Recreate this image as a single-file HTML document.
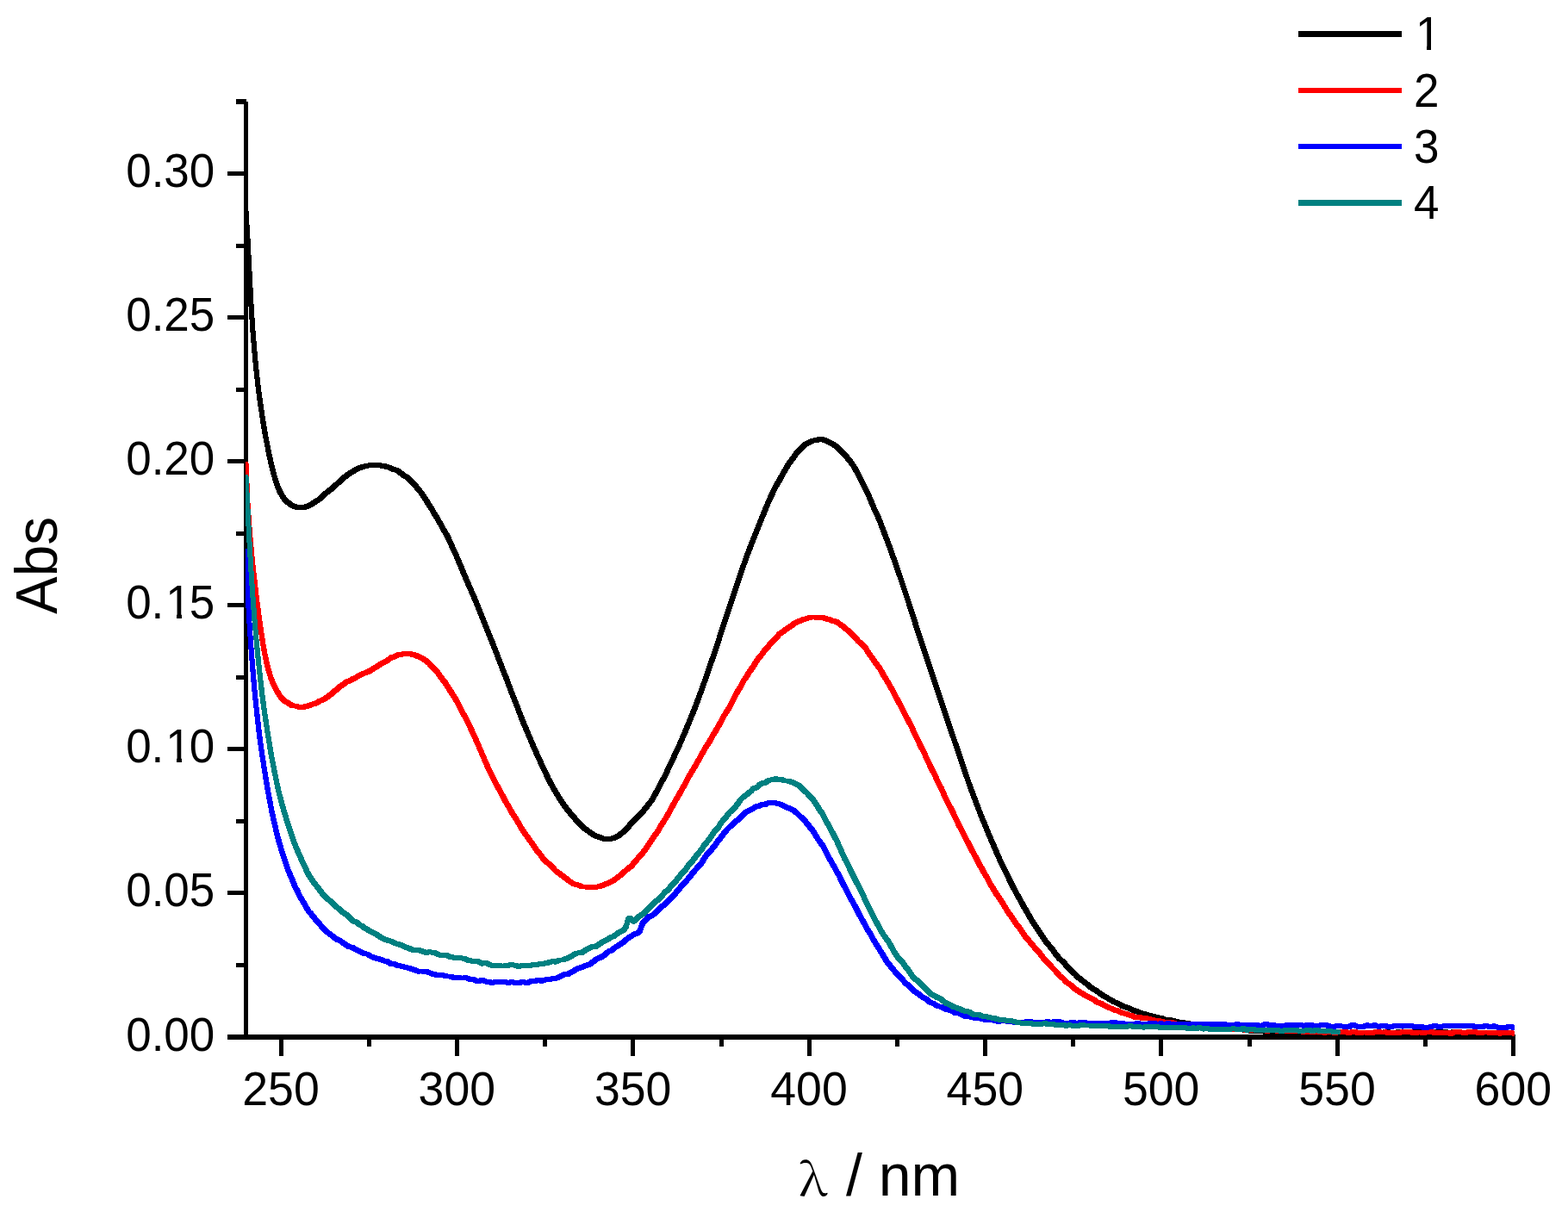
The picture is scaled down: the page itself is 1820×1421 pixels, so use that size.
<!DOCTYPE html>
<html lang="en">
<head>
<meta charset="utf-8">
<title>Abs vs wavelength</title>
<style>
html,body{margin:0;padding:0;background:#fff;}
body{width:1820px;height:1421px;overflow:hidden;}
svg{display:block;}
text{font-family:"Liberation Sans",Arial,sans-serif;fill:#000;}
.tk{font-size:53px;}
.ti{font-size:68px;}
.lam{font-family:"Noto Serif CJK SC","Liberation Serif",serif;font-size:52.2px;}
.c{fill:none;stroke-linejoin:round;stroke-linecap:butt;}
</style>
</head>
<body>
<svg width="1820" height="1421" viewBox="0 0 1820 1421">
<rect width="1820" height="1421" fill="#fff"/>
<g shape-rendering="crispEdges" fill="#000">
<rect x="283" y="118" width="5" height="1089"/>
<rect x="264" y="1201" width="1495" height="6"/>
<rect x="274" y="1118" width="10" height="5"/>
<rect x="264" y="1034" width="20" height="5"/>
<rect x="274" y="951" width="10" height="5"/>
<rect x="264" y="867" width="20" height="5"/>
<rect x="274" y="784" width="10" height="5"/>
<rect x="264" y="700" width="20" height="5"/>
<rect x="274" y="617" width="10" height="5"/>
<rect x="264" y="533" width="20" height="5"/>
<rect x="274" y="450" width="10" height="5"/>
<rect x="264" y="366" width="20" height="5"/>
<rect x="274" y="283" width="10" height="5"/>
<rect x="264" y="199" width="20" height="5"/>
<rect x="274" y="115" width="10" height="5"/>
<rect x="274" y="115" width="12" height="6"/>
<rect x="324" y="1206" width="5" height="20"/>
<rect x="426" y="1206" width="5" height="9"/>
<rect x="528" y="1206" width="5" height="20"/>
<rect x="630" y="1206" width="5" height="9"/>
<rect x="732" y="1206" width="5" height="20"/>
<rect x="835" y="1206" width="5" height="9"/>
<rect x="937" y="1206" width="5" height="20"/>
<rect x="1039" y="1206" width="5" height="9"/>
<rect x="1141" y="1206" width="5" height="20"/>
<rect x="1243" y="1206" width="5" height="9"/>
<rect x="1345" y="1206" width="5" height="20"/>
<rect x="1448" y="1206" width="5" height="9"/>
<rect x="1550" y="1206" width="5" height="20"/>
<rect x="1652" y="1206" width="5" height="9"/>
<rect x="1754" y="1206" width="5" height="20"/>
</g>
<g class="tk" text-anchor="end">
<text transform="translate(249.3,1219.8) scale(1,1.035)">0.00</text>
<text transform="translate(249.3,1051.8) scale(1,1.035)">0.05</text>
<text transform="translate(249.3,884.8) scale(1,1.035)">0.<tspan dx="2">1</tspan><tspan dx="-2">0</tspan></text>
<text transform="translate(249.3,717.8) scale(1,1.035)">0.<tspan dx="2">1</tspan><tspan dx="-2">5</tspan></text>
<text transform="translate(249.3,550.8) scale(1,1.035)">0.20</text>
<text transform="translate(249.3,383.8) scale(1,1.035)">0.25</text>
<text transform="translate(249.3,216.8) scale(1,1.035)">0.30</text>
</g>
<g class="tk" text-anchor="middle">
<text transform="translate(326.0,1283.0) scale(1.012,1.035)">250</text>
<text transform="translate(530.3,1283.0) scale(1.012,1.035)">300</text>
<text transform="translate(734.7,1283.0) scale(1.012,1.035)">350</text>
<text transform="translate(939.0,1283.0) scale(1.012,1.035)">400</text>
<text transform="translate(1143.3,1283.0) scale(1.012,1.035)">450</text>
<text transform="translate(1347.7,1283.0) scale(1.012,1.035)">500</text>
<text transform="translate(1552.0,1283.0) scale(1.012,1.035)">550</text>
<text transform="translate(1756.3,1283.0) scale(1.012,1.035)">600</text>
</g>
<text id="abs" class="ti" text-anchor="middle" transform="translate(66.0,656.5) rotate(-90) scale(0.965,1.02)">Abs</text>
<text id="xt" class="ti" y="1388"><tspan class="lam" x="927.3" y="1388.2" textLength="32.9" lengthAdjust="spacingAndGlyphs">λ</tspan><tspan x="963.1" y="1388"> / nm</tspan></text>
<clipPath id="cp"><rect x="285" y="100" width="1473" height="1120"/></clipPath>
<g clip-path="url(#cp)" shape-rendering="crispEdges" stroke-width="3.2" stroke-linejoin="round">
<path fill="#000000" stroke="#000000" d="M284.1,244.9 286.9,244.9 288.9,277.3 292.9,353.2 295.1,386.8 297.1,410.8 299.1,431.1 301.1,448.6 303.1,463.9 307.1,490.7 309.4,504.0 311.6,516.0 315.4,533.9 317.6,543.4 319.6,550.9 321.6,557.4 323.6,563.3 325.6,568.3 327.6,572.1 331.9,578.6 333.9,580.6 337.9,583.8 339.9,585.2 346.1,587.8 347.4,588.1 351.6,587.6 353.6,587.1 359.6,584.6 363.9,581.7 367.9,579.3 369.9,577.7 378.1,570.3 380.4,568.7 388.1,562.1 396.4,554.4 402.6,549.4 404.6,548.1 410.9,544.4 416.9,541.6 422.9,539.8 424.9,539.4 431.1,538.7 434.1,538.7 437.6,539.1 442.1,538.9 446.1,539.8 448.4,540.1 454.4,541.8 458.4,543.7 460.6,544.3 462.6,545.1 464.6,546.3 468.9,549.9 470.9,551.1 472.9,552.0 474.6,553.4 478.9,558.1 483.1,562.0 489.1,569.4 491.4,572.5 501.4,587.8 505.6,595.4 509.6,601.6 515.6,612.5 519.9,619.6 521.9,623.5 525.9,632.8 529.9,641.1 542.4,670.9 552.6,694.4 566.6,729.5 572.9,744.6 585.1,776.4 589.4,787.0 595.4,803.3 599.6,813.7 607.9,835.3 621.9,868.3 632.1,890.8 638.4,903.9 644.4,914.9 652.6,928.4 654.9,931.8 660.9,939.8 670.9,951.5 675.1,955.6 679.1,959.9 689.4,967.3 695.4,970.2 697.6,970.8 701.6,972.3 705.6,972.6 707.1,972.5 711.1,971.6 713.4,970.8 717.1,968.7 725.4,961.6 729.6,956.6 739.6,946.2 743.9,942.1 754.1,929.1 756.1,926.0 760.1,918.9 764.4,910.5 768.4,903.3 772.4,895.3 786.9,864.5 795.1,845.3 805.1,820.8 813.4,798.7 829.6,751.8 839.9,719.8 852.1,682.9 864.4,647.2 872.6,625.6 882.9,600.0 891.1,580.2 897.1,567.3 899.1,563.2 903.1,556.7 907.4,548.5 913.6,538.1 923.6,524.3 927.9,520.0 929.9,517.6 931.9,515.6 933.9,514.3 942.1,510.2 946.4,510.0 950.4,508.5 955.1,508.6 959.1,509.8 961.1,510.7 967.4,513.9 971.4,516.5 979.6,524.2 985.9,531.3 991.6,539.0 993.9,542.6 1008.1,570.3 1016.4,590.1 1020.4,598.5 1022.4,603.2 1034.6,635.4 1045.1,665.5 1055.1,695.4 1063.4,721.2 1081.9,777.4 1085.9,788.9 1098.1,826.1 1126.6,909.8 1139.1,943.0 1149.1,967.4 1163.4,1000.3 1177.9,1029.6 1189.9,1051.5 1193.9,1058.1 1198.4,1066.3 1212.6,1088.0 1214.6,1090.9 1222.9,1101.0 1228.9,1109.1 1230.9,1111.3 1236.9,1117.0 1241.1,1122.3 1249.4,1129.7 1253.4,1133.9 1261.6,1140.1 1265.6,1143.5 1269.6,1146.4 1273.9,1148.8 1277.9,1151.8 1284.1,1155.9 1290.1,1159.2 1294.4,1161.8 1298.4,1163.4 1304.4,1166.7 1312.6,1169.4 1316.9,1171.5 1320.9,1172.8 1324.9,1174.5 1328.9,1175.7 1343.4,1179.6 1349.4,1180.7 1353.6,1182.4 1355.6,1182.8 1359.6,1182.9 1361.6,1183.2 1367.9,1185.0 1373.9,1185.9 1378.1,1186.3 1386.1,1188.3 1390.4,1188.4 1394.4,1189.0 1396.4,1189.2 1402.6,1190.8 1406.6,1191.0 1416.4,1192.3 1420.9,1192.4 1427.1,1193.4 1428.9,1193.5 1433.1,1193.4 1437.1,1193.9 1443.4,1194.1 1449.6,1194.9 1453.6,1195.8 1456.6,1195.9 1459.1,1195.7 1463.6,1195.7 1471.4,1196.6 1473.4,1196.4 1476.1,1196.4 1479.4,1197.0 1483.6,1196.8 1490.1,1196.9 1491.9,1196.7 1496.4,1196.7 1498.6,1197.5 1499.9,1197.8 1508.6,1197.7 1510.6,1198.0 1512.1,1197.8 1520.9,1197.8 1523.1,1198.4 1524.4,1198.2 1533.1,1198.2 1539.4,1198.3 1541.1,1198.5 1544.9,1197.7 1549.6,1197.7 1551.4,1197.9 1559.9,1197.7 1562.6,1197.9 1567.9,1197.8 1569.6,1198.0 1571.6,1197.7 1576.1,1197.7 1579.4,1197.9 1594.6,1197.5 1598.6,1197.9 1604.1,1197.6 1606.1,1197.0 1608.1,1196.7 1610.9,1196.7 1612.9,1197.0 1616.6,1197.8 1618.4,1197.6 1622.6,1196.5 1627.1,1196.6 1629.1,1197.2 1637.4,1197.1 1639.4,1197.3 1640.9,1197.0 1642.9,1196.8 1655.4,1197.0 1657.4,1196.8 1666.1,1196.6 1670.1,1196.9 1675.1,1197.1 1680.4,1196.9 1682.4,1197.4 1685.9,1196.9 1688.6,1196.9 1692.6,1197.0 1696.4,1197.5 1702.9,1197.4 1706.9,1197.7 1711.1,1197.5 1714.4,1198.0 1719.9,1198.1 1722.6,1197.8 1725.4,1197.8 1731.4,1198.0 1733.4,1198.3 1739.6,1198.3 1743.1,1198.8 1745.9,1198.8 1749.9,1199.4 1754.4,1199.8 1759.4,1199.7 1759.4,1202.3 1753.1,1202.5 1747.1,1202.0 1743.9,1201.5 1740.9,1201.5 1736.9,1200.9 1730.9,1200.9 1727.4,1200.6 1724.1,1200.5 1721.4,1200.8 1716.9,1200.6 1712.4,1200.8 1709.4,1200.3 1704.4,1200.3 1700.6,1200.0 1694.1,1200.2 1689.9,1199.6 1687.9,1199.6 1684.4,1200.2 1681.6,1200.2 1679.6,1200.0 1678.1,1199.6 1673.6,1199.8 1671.4,1199.6 1667.4,1199.5 1665.1,1199.3 1660.1,1199.4 1657.9,1199.7 1644.1,1199.5 1641.6,1200.1 1638.6,1200.1 1634.9,1199.7 1626.6,1199.8 1624.6,1199.3 1621.1,1200.2 1617.1,1200.5 1614.4,1200.5 1609.6,1199.5 1606.9,1200.2 1602.9,1200.3 1600.6,1200.7 1596.1,1200.6 1593.6,1200.2 1580.4,1200.6 1574.1,1200.3 1572.1,1200.6 1566.1,1200.5 1563.9,1200.7 1561.1,1200.7 1557.9,1200.4 1548.9,1200.6 1547.4,1200.4 1543.4,1201.2 1530.9,1200.8 1522.4,1201.1 1520.4,1201.0 1518.4,1200.5 1510.1,1200.7 1504.6,1200.4 1497.9,1200.6 1495.9,1200.1 1493.9,1199.4 1492.4,1199.6 1485.9,1199.5 1477.4,1199.8 1474.1,1199.2 1469.1,1199.3 1461.1,1198.4 1457.6,1198.6 1450.9,1198.4 1446.9,1197.5 1440.6,1196.7 1434.6,1196.6 1431.6,1196.1 1424.4,1196.0 1418.1,1195.0 1414.1,1195.0 1403.9,1193.6 1399.9,1193.4 1393.6,1191.8 1391.6,1191.6 1388.1,1191.1 1383.4,1190.9 1375.4,1188.9 1371.1,1188.5 1365.1,1187.6 1358.9,1185.8 1357.1,1185.5 1352.9,1185.4 1350.9,1185.0 1346.6,1183.3 1340.6,1182.2 1326.1,1178.3 1322.1,1177.1 1318.1,1175.4 1314.1,1174.1 1309.9,1172.0 1301.6,1169.3 1295.6,1166.0 1291.6,1164.4 1287.4,1161.8 1281.4,1158.5 1275.1,1154.4 1271.1,1151.4 1266.9,1149.0 1262.9,1146.1 1258.9,1142.7 1250.6,1136.5 1246.6,1132.3 1238.4,1124.9 1234.1,1119.6 1228.1,1113.9 1226.1,1111.7 1220.1,1103.6 1211.9,1093.5 1209.9,1090.6 1195.6,1068.9 1191.1,1060.7 1187.1,1054.1 1175.1,1032.2 1160.6,1002.9 1146.4,970.0 1136.4,945.6 1123.9,912.4 1095.4,828.7 1083.1,791.5 1079.1,780.0 1060.6,723.8 1052.4,698.0 1042.4,668.1 1031.9,638.0 1019.6,605.8 1017.6,601.1 1013.6,592.7 1005.4,572.9 991.1,545.2 988.9,541.6 983.1,533.9 976.9,526.8 968.6,519.1 964.6,516.5 958.4,513.3 956.4,512.4 952.6,511.3 948.9,512.7 944.9,512.8 936.6,516.9 934.4,518.4 932.6,520.2 930.6,522.6 926.4,526.9 916.4,540.7 910.1,551.1 905.9,559.3 901.9,565.8 895.9,578.4 893.6,583.4 881.4,613.1 875.4,628.2 867.1,649.8 854.9,685.5 842.6,722.4 832.4,754.4 816.1,801.3 807.9,823.4 797.9,847.9 789.6,867.1 775.1,897.9 771.1,905.9 767.1,913.1 762.9,921.5 758.9,928.6 756.9,931.7 746.6,944.7 742.4,948.8 732.4,959.2 728.1,964.2 720.1,971.1 718.1,972.3 715.9,973.5 713.9,974.2 709.9,975.1 707.6,975.3 701.1,975.1 698.9,974.9 694.9,973.4 692.6,972.8 686.6,969.9 676.4,962.5 672.4,958.2 668.1,954.1 658.1,942.4 652.1,934.4 649.9,931.0 641.6,917.5 635.6,906.5 629.4,893.4 619.1,870.9 605.1,837.9 596.9,816.3 592.6,805.9 586.6,789.6 582.4,779.0 570.1,747.2 563.9,732.1 549.9,697.0 539.6,673.5 527.1,643.7 523.1,635.4 519.1,626.1 517.1,622.2 512.9,615.1 506.9,604.2 502.9,598.0 498.6,590.4 488.6,575.1 486.4,572.0 480.4,564.6 476.1,560.7 471.9,556.0 470.1,554.6 468.1,553.7 466.1,552.5 461.9,548.9 459.9,547.7 457.9,546.9 455.6,546.3 451.6,544.4 445.6,542.7 443.4,542.4 440.4,541.7 435.4,541.8 432.9,541.4 427.9,541.9 425.9,542.3 419.6,544.2 413.6,547.0 405.6,551.8 399.1,557.0 390.9,564.7 383.1,571.3 380.9,572.9 372.6,580.3 370.6,581.9 366.6,584.3 362.4,587.2 356.4,589.7 354.4,590.2 350.1,590.7 345.4,590.9 343.4,590.4 337.4,587.9 335.1,586.4 331.1,583.2 329.1,581.2 324.9,574.7 322.9,570.9 320.9,565.9 316.9,553.5 314.6,545.0 310.9,528.4 306.6,506.6 304.6,494.9 300.6,468.3 298.4,451.2 296.4,433.7 294.4,413.4 292.1,385.9 290.1,355.8 286.1,279.9 284.1,247.5Z"/>
<path fill="#ff0000" stroke="#ff0000" d="M284.1,537.4 286.9,537.4 288.9,584.0 290.9,612.3 292.9,635.4 295.1,657.9 299.1,692.4 301.4,710.3 305.4,738.3 307.4,750.7 309.4,761.4 311.4,770.3 313.6,778.7 315.6,785.1 317.6,790.4 319.4,794.4 321.6,798.9 325.9,806.1 327.9,808.4 331.9,812.4 333.9,813.8 335.9,814.8 340.1,817.8 341.9,818.1 344.1,818.1 348.4,819.5 350.4,819.6 351.6,819.3 353.6,818.5 355.6,818.4 357.6,817.8 359.9,816.7 363.9,815.7 365.6,815.0 369.9,812.5 374.1,810.9 382.1,805.3 386.4,801.6 390.4,798.5 394.4,794.9 398.6,792.4 400.6,790.6 402.6,789.7 404.6,789.2 408.6,786.7 410.9,785.8 414.9,783.3 420.9,780.4 425.1,779.0 429.1,776.9 443.4,767.9 447.6,766.0 449.6,764.6 451.6,762.9 453.6,761.7 455.9,761.4 459.9,759.1 466.1,758.1 476.9,757.8 483.1,759.1 487.1,761.1 489.4,761.8 493.1,763.9 499.4,768.7 509.6,779.7 513.6,785.6 517.9,790.9 521.9,797.4 527.9,806.5 529.9,809.9 534.1,817.5 538.1,825.5 542.1,832.7 548.4,845.6 554.6,859.3 566.9,887.8 576.9,908.3 583.1,919.4 589.4,931.4 591.4,934.5 595.4,941.8 603.6,954.8 607.6,962.0 621.9,982.0 624.1,985.5 628.1,990.4 632.1,995.8 640.4,1003.5 646.4,1009.7 656.9,1017.4 660.9,1020.7 666.9,1024.7 669.1,1025.4 673.1,1026.4 677.4,1028.2 681.4,1028.2 685.4,1028.9 687.9,1029.1 694.9,1027.8 707.1,1022.9 711.1,1020.7 715.1,1017.5 719.4,1014.5 727.4,1007.2 731.6,1004.0 739.6,994.5 743.9,989.9 747.9,984.7 754.1,975.0 762.1,963.7 766.4,956.3 772.4,947.0 782.6,928.3 786.6,921.6 792.9,910.4 798.9,899.1 805.4,888.4 817.4,867.0 821.4,861.1 825.6,853.1 827.6,850.2 829.6,846.8 833.9,839.3 837.9,831.5 845.9,818.8 852.4,805.7 854.1,802.5 858.4,795.6 862.4,788.0 864.6,785.1 868.6,778.5 872.6,773.0 876.6,766.4 878.9,763.2 882.9,758.4 886.9,752.9 890.9,748.6 893.1,745.5 894.9,743.5 899.1,739.6 903.1,735.1 905.4,733.2 907.4,732.1 909.4,730.6 911.4,728.9 915.6,726.5 919.6,723.1 921.6,722.0 929.9,718.3 940.1,715.3 944.9,715.1 949.4,715.5 952.1,715.3 955.1,715.3 957.1,715.8 959.1,716.8 961.1,717.3 963.4,717.7 967.4,719.6 971.4,720.2 973.4,721.2 979.6,725.8 987.6,732.4 991.9,736.6 997.9,743.3 1004.1,748.7 1006.1,751.1 1010.1,757.9 1014.1,762.9 1016.4,766.4 1022.4,774.4 1024.4,777.8 1026.6,782.2 1030.6,788.4 1038.6,802.6 1059.1,841.9 1069.4,863.7 1073.6,871.8 1077.6,880.9 1081.6,889.3 1085.9,897.3 1089.9,906.1 1093.9,913.8 1100.1,928.0 1102.1,932.0 1106.4,939.5 1114.4,956.6 1118.4,964.1 1120.6,968.8 1124.6,976.2 1128.9,984.7 1134.9,995.7 1138.9,1003.6 1140.9,1006.8 1145.1,1014.7 1147.1,1017.8 1151.1,1025.3 1157.4,1035.7 1163.6,1044.7 1171.6,1057.9 1175.6,1063.1 1179.9,1070.0 1185.9,1077.5 1190.1,1084.1 1192.1,1086.8 1200.1,1096.1 1204.1,1101.1 1208.4,1105.6 1214.4,1113.4 1218.6,1117.4 1222.6,1121.9 1226.9,1126.2 1230.9,1131.3 1235.1,1134.5 1239.1,1138.6 1241.1,1140.4 1245.1,1142.7 1249.4,1147.0 1257.6,1152.2 1261.6,1154.5 1265.6,1156.4 1269.6,1158.6 1271.6,1159.8 1273.9,1161.5 1275.6,1162.5 1277.9,1163.0 1279.9,1163.9 1282.1,1165.4 1286.1,1167.2 1288.1,1168.3 1292.1,1169.9 1294.1,1171.1 1296.1,1171.7 1298.4,1171.9 1304.4,1174.8 1308.6,1175.8 1312.6,1177.3 1314.9,1177.9 1318.6,1179.5 1322.9,1179.4 1326.9,1180.5 1331.1,1181.0 1335.1,1181.2 1339.1,1183.0 1345.4,1183.5 1353.1,1185.5 1359.6,1185.4 1361.6,1185.7 1365.9,1187.1 1369.9,1187.7 1384.1,1187.9 1386.1,1188.1 1390.4,1189.1 1394.4,1189.1 1400.4,1189.8 1402.6,1190.8 1406.6,1191.1 1408.1,1191.5 1409.9,1190.9 1412.9,1190.8 1414.9,1191.1 1416.9,1191.6 1422.4,1192.0 1427.1,1191.8 1431.1,1193.3 1435.9,1193.9 1443.4,1193.8 1445.4,1194.1 1447.4,1194.6 1451.6,1194.6 1452.9,1194.8 1454.9,1194.2 1459.6,1194.1 1461.6,1194.6 1463.1,1194.4 1467.9,1194.5 1470.6,1195.3 1477.4,1194.9 1480.1,1194.9 1485.9,1195.8 1487.6,1195.4 1489.6,1195.3 1492.4,1195.3 1494.4,1195.8 1498.1,1195.9 1499.9,1195.6 1508.6,1195.7 1516.9,1196.8 1522.4,1196.5 1525.1,1196.5 1528.4,1197.0 1533.4,1196.9 1535.4,1197.0 1537.4,1197.3 1540.9,1196.5 1545.4,1196.4 1547.6,1196.8 1549.6,1197.4 1553.1,1197.0 1561.9,1196.9 1563.9,1196.9 1565.9,1197.5 1569.4,1196.7 1572.1,1196.7 1574.1,1196.8 1577.9,1197.7 1581.6,1197.1 1584.4,1197.1 1586.6,1197.3 1590.6,1197.2 1592.6,1197.5 1595.9,1196.6 1600.6,1196.6 1604.6,1197.2 1608.9,1197.0 1611.6,1197.5 1617.4,1197.5 1618.6,1197.3 1623.9,1197.4 1626.6,1196.5 1628.6,1196.3 1633.4,1196.3 1637.4,1197.0 1639.6,1197.0 1642.1,1197.7 1645.1,1197.1 1649.6,1197.2 1652.1,1197.6 1653.1,1197.4 1655.4,1196.6 1659.9,1196.4 1663.9,1196.9 1666.9,1197.7 1671.4,1197.4 1676.1,1197.5 1677.6,1197.2 1680.4,1197.2 1682.4,1197.5 1684.1,1198.3 1687.9,1196.6 1692.6,1196.6 1699.4,1197.5 1704.1,1196.7 1713.1,1196.6 1716.9,1197.6 1722.6,1197.1 1725.4,1197.1 1731.9,1197.5 1734.9,1197.2 1737.6,1197.2 1741.1,1198.2 1743.1,1197.8 1748.6,1197.9 1751.1,1197.3 1753.9,1197.3 1758.1,1198.5 1759.4,1198.5 1759.4,1201.1 1755.4,1201.1 1752.6,1200.3 1749.9,1200.7 1747.1,1200.7 1745.6,1200.4 1743.6,1200.9 1739.1,1201.0 1735.6,1200.0 1730.6,1200.2 1724.1,1199.8 1721.1,1200.1 1714.4,1200.3 1710.9,1199.4 1706.4,1199.4 1702.9,1200.0 1698.1,1200.2 1690.6,1199.3 1688.6,1200.0 1686.4,1201.1 1681.9,1201.1 1679.1,1200.1 1672.9,1200.0 1668.1,1200.5 1665.4,1200.5 1663.4,1200.2 1661.4,1199.5 1658.4,1199.2 1655.9,1200.0 1653.9,1200.4 1651.1,1200.4 1647.1,1199.8 1643.6,1200.6 1640.9,1200.6 1638.9,1200.3 1636.9,1199.6 1634.6,1199.6 1630.9,1199.0 1629.4,1199.1 1627.1,1199.9 1625.1,1200.3 1622.4,1200.3 1620.9,1199.9 1619.1,1200.3 1616.4,1200.3 1614.6,1200.1 1613.1,1200.3 1610.1,1200.3 1607.4,1199.8 1602.1,1199.8 1598.6,1199.2 1596.6,1199.7 1594.6,1200.4 1591.9,1200.4 1588.9,1200.0 1585.6,1200.0 1583.4,1199.9 1580.1,1200.4 1575.6,1200.4 1571.4,1199.4 1567.9,1200.2 1563.4,1200.1 1561.4,1199.6 1559.9,1199.8 1555.1,1199.7 1551.6,1200.1 1548.9,1200.1 1546.9,1200.0 1543.6,1199.2 1539.4,1200.1 1536.6,1200.1 1534.6,1199.9 1532.4,1199.6 1526.4,1199.7 1523.1,1199.2 1520.9,1199.5 1514.1,1199.4 1506.6,1198.4 1502.4,1198.3 1500.6,1198.5 1497.6,1198.5 1491.9,1198.4 1490.1,1198.0 1488.4,1198.5 1483.6,1198.5 1478.1,1197.6 1472.1,1198.1 1469.1,1198.1 1467.1,1197.8 1465.1,1197.2 1463.9,1197.4 1460.9,1197.4 1459.1,1197.3 1457.4,1196.9 1455.6,1197.4 1453.6,1197.5 1450.9,1197.5 1449.1,1197.2 1444.9,1197.3 1440.6,1196.4 1434.4,1196.6 1428.4,1195.9 1424.9,1194.6 1420.1,1194.6 1414.1,1194.2 1412.1,1193.7 1410.6,1194.2 1405.9,1194.4 1403.9,1193.7 1399.9,1193.4 1397.6,1192.4 1392.1,1191.8 1387.6,1191.7 1383.4,1190.7 1381.4,1190.5 1375.4,1190.6 1372.6,1190.3 1367.1,1190.3 1363.1,1189.7 1358.9,1188.3 1357.1,1188.0 1350.6,1188.1 1342.6,1186.1 1336.4,1185.6 1332.4,1183.8 1328.4,1183.6 1324.1,1183.1 1320.6,1182.2 1315.9,1182.1 1312.1,1180.5 1309.9,1179.9 1305.9,1178.4 1301.6,1177.4 1295.6,1174.5 1293.4,1174.3 1291.4,1173.7 1289.4,1172.5 1285.4,1170.9 1283.4,1169.8 1279.4,1168.0 1277.1,1166.5 1275.1,1165.6 1272.9,1165.1 1271.1,1164.1 1268.9,1162.4 1266.9,1161.2 1262.9,1159.0 1258.9,1157.1 1254.9,1154.8 1246.6,1149.6 1242.4,1145.3 1238.4,1143.0 1236.4,1141.2 1232.4,1137.1 1228.1,1133.9 1224.1,1128.8 1219.9,1124.5 1215.9,1120.0 1211.6,1116.0 1205.6,1108.2 1201.4,1103.7 1197.4,1098.7 1189.4,1089.4 1187.4,1086.7 1183.1,1080.1 1177.1,1072.6 1172.9,1065.7 1168.9,1060.5 1160.9,1047.3 1154.6,1038.3 1148.4,1027.9 1144.4,1020.4 1142.4,1017.3 1138.1,1009.4 1136.1,1006.2 1132.1,998.3 1126.1,987.3 1121.9,978.8 1117.9,971.4 1115.6,966.7 1111.6,959.2 1103.6,942.1 1099.4,934.6 1097.4,930.6 1091.1,916.4 1087.1,908.7 1083.1,899.9 1078.9,891.9 1074.9,883.5 1070.9,874.4 1066.6,866.3 1056.4,844.5 1035.9,805.2 1027.9,791.0 1023.9,784.8 1021.6,780.4 1019.6,777.0 1013.6,769.0 1011.4,765.5 1007.4,760.5 1003.4,753.7 1001.4,751.3 995.1,745.9 989.1,739.2 984.9,735.0 976.9,728.4 970.6,723.8 968.6,722.8 964.6,722.2 960.6,720.3 958.4,719.9 956.4,719.4 954.4,718.4 952.9,718.0 950.9,718.3 948.1,718.3 944.1,717.8 942.6,717.9 932.6,720.9 924.4,724.6 922.4,725.7 918.4,729.1 914.1,731.5 912.1,733.2 910.1,734.7 908.1,735.8 905.9,737.7 901.9,742.2 897.9,745.8 895.9,748.1 893.6,751.2 889.6,755.5 885.6,761.0 881.4,766.1 879.4,769.0 875.4,775.6 871.4,781.1 869.1,785.0 867.1,788.0 865.1,790.6 861.1,798.2 856.9,805.1 855.1,808.3 848.6,821.4 840.6,834.1 836.6,841.9 832.4,849.4 830.4,852.8 828.4,855.7 824.1,863.7 820.1,869.6 808.1,891.0 801.6,901.7 795.6,913.0 789.4,924.2 785.4,930.9 775.1,949.6 769.1,958.9 764.9,966.3 756.9,977.6 750.6,987.3 746.6,992.5 742.4,997.1 734.4,1006.6 730.1,1009.8 722.1,1017.1 717.9,1020.1 713.9,1023.3 709.9,1025.5 697.6,1030.4 693.6,1031.0 691.4,1031.6 689.4,1031.8 682.6,1031.5 679.6,1030.9 674.6,1030.8 670.4,1029.0 666.4,1028.0 664.1,1027.3 658.1,1023.3 654.1,1020.0 643.6,1012.3 637.6,1006.1 629.4,998.4 625.4,993.0 621.4,988.1 619.1,984.6 604.9,964.6 600.9,957.4 592.6,944.4 588.6,937.1 586.6,934.0 580.4,922.0 574.1,910.9 564.1,890.4 551.9,861.9 545.6,848.2 539.4,835.3 535.4,828.1 531.4,820.1 527.1,812.5 525.1,809.1 519.1,800.0 515.1,793.5 510.9,788.2 506.9,782.3 496.6,771.3 490.4,766.5 486.6,764.4 484.4,763.7 480.4,761.7 474.1,760.4 468.9,760.7 462.6,761.7 458.6,764.0 456.4,764.3 454.4,765.5 452.4,767.2 450.4,768.6 446.1,770.5 431.9,779.5 427.9,781.6 423.6,783.0 417.6,785.9 413.6,788.4 411.4,789.3 407.4,791.8 405.4,792.3 403.4,793.2 401.4,795.0 397.1,797.5 393.1,801.1 389.1,804.2 384.9,807.9 376.9,813.5 372.6,815.1 368.4,817.6 366.6,818.3 362.6,819.3 360.4,820.4 358.4,821.0 356.4,821.1 354.4,821.9 352.4,822.3 349.4,822.4 345.4,822.1 341.6,820.8 339.4,820.8 337.4,820.4 333.1,817.4 331.1,816.4 329.1,815.0 325.1,811.0 323.1,808.7 318.9,801.5 316.6,797.0 314.9,793.0 312.9,787.7 310.6,780.4 308.6,772.9 306.4,762.7 304.4,751.8 300.6,727.4 298.4,711.0 294.4,678.1 292.4,660.5 290.1,638.0 288.1,614.9 286.1,586.6 284.1,540.0Z"/>
<path fill="#0000ff" stroke="#0000ff" d="M284.1,638.7 286.8,638.7 289.1,689.2 290.8,721.4 293.1,755.0 297.1,802.8 299.1,822.6 303.1,856.9 305.3,872.8 309.3,898.7 311.3,911.0 315.6,934.3 317.6,944.3 323.6,970.2 329.6,990.7 336.1,1009.6 339.8,1018.1 344.1,1028.6 346.1,1032.2 350.1,1040.4 356.3,1050.8 358.3,1054.6 360.3,1057.6 362.6,1059.8 368.6,1067.3 374.8,1074.3 380.8,1080.4 382.8,1082.0 384.8,1083.3 389.1,1087.0 393.1,1089.7 395.1,1090.4 397.1,1091.5 405.3,1097.2 407.3,1098.1 409.6,1098.4 411.6,1099.3 413.6,1100.7 419.6,1103.3 423.8,1105.8 427.8,1106.3 431.8,1109.0 433.8,1109.8 440.1,1111.8 444.1,1112.8 446.3,1114.0 448.3,1114.4 450.3,1114.5 452.3,1115.8 454.6,1117.5 455.6,1117.8 458.6,1117.8 460.6,1118.5 462.6,1119.6 466.6,1120.3 472.8,1121.8 481.1,1124.2 486.3,1126.2 491.1,1126.1 493.3,1126.6 497.3,1127.0 501.6,1128.7 507.6,1130.4 513.6,1130.6 515.8,1131.0 519.8,1132.1 523.8,1132.2 528.1,1133.6 532.1,1133.6 536.3,1134.2 539.3,1133.9 542.3,1133.9 544.3,1134.5 546.3,1135.6 550.3,1135.7 552.3,1136.2 554.8,1137.5 557.8,1136.6 560.8,1136.7 562.6,1137.1 564.8,1138.1 566.8,1138.5 568.8,1138.5 570.8,1139.3 572.3,1139.0 581.1,1138.6 587.1,1138.7 589.8,1139.3 592.6,1138.9 595.3,1138.9 601.1,1139.7 604.8,1138.8 607.6,1138.8 611.6,1139.4 613.1,1138.9 615.1,1137.4 617.1,1137.1 619.8,1137.1 620.8,1137.3 623.3,1136.5 626.1,1136.5 628.8,1137.2 631.6,1136.1 635.6,1135.9 641.6,1134.5 643.8,1134.4 645.8,1133.9 651.8,1130.7 653.8,1130.0 656.1,1129.8 658.1,1129.5 662.1,1127.3 668.3,1123.6 672.3,1122.2 678.3,1119.7 682.6,1118.6 684.3,1117.5 690.8,1112.3 692.8,1111.2 694.8,1110.6 696.8,1109.6 698.8,1108.2 700.8,1107.2 705.1,1103.3 707.1,1102.6 709.1,1101.6 711.3,1099.6 713.1,1098.4 715.3,1097.3 721.3,1093.1 727.6,1087.9 731.6,1085.5 733.6,1083.9 735.6,1082.8 737.8,1082.4 739.8,1081.4 741.8,1078.5 743.8,1072.2 745.8,1068.6 747.8,1067.2 752.1,1062.9 756.1,1061.3 760.1,1057.6 762.3,1055.8 766.3,1051.4 770.6,1048.4 776.6,1042.0 780.6,1038.3 788.6,1028.7 794.8,1021.9 805.1,1009.4 811.3,1002.4 813.3,999.9 819.3,990.2 823.6,986.3 825.6,983.5 829.6,978.7 831.8,975.1 835.8,970.4 839.8,964.8 844.1,960.2 852.1,952.7 856.3,949.5 860.3,945.1 864.3,941.6 868.6,939.7 872.3,937.7 874.6,935.9 876.6,934.8 878.8,934.6 882.8,932.9 886.8,932.7 888.8,931.5 890.8,930.8 899.8,930.8 903.8,931.5 908.1,932.7 910.1,933.6 914.1,935.8 920.1,938.1 922.3,939.3 926.3,942.7 930.6,946.9 934.6,949.9 938.6,955.4 944.8,963.0 950.8,972.9 957.1,981.5 963.1,993.6 971.3,1007.9 975.3,1015.4 979.6,1024.2 985.6,1035.2 987.8,1040.1 993.6,1050.1 998.1,1059.1 1005.8,1073.1 1008.1,1077.6 1012.1,1083.5 1016.3,1091.6 1020.3,1097.7 1030.6,1114.6 1032.6,1117.4 1040.8,1127.4 1053.1,1140.6 1057.1,1143.7 1061.3,1148.3 1063.1,1149.9 1067.3,1152.3 1069.3,1153.8 1071.6,1155.9 1073.3,1157.1 1075.6,1158.0 1077.6,1159.3 1079.6,1161.2 1081.6,1162.6 1083.8,1163.3 1085.6,1164.1 1087.8,1165.9 1089.8,1166.9 1094.1,1167.5 1096.1,1168.6 1098.1,1170.1 1100.1,1170.9 1104.3,1171.5 1106.3,1172.3 1110.3,1174.8 1112.3,1175.2 1114.6,1175.3 1116.3,1175.9 1120.6,1178.2 1122.1,1178.6 1126.6,1178.8 1128.6,1179.7 1130.6,1180.2 1134.8,1180.6 1141.1,1181.4 1143.1,1181.8 1145.6,1182.8 1148.3,1182.4 1151.3,1182.5 1153.1,1182.7 1157.3,1184.1 1158.8,1184.3 1160.6,1183.7 1162.6,1183.3 1165.6,1183.3 1169.6,1183.9 1172.1,1184.9 1175.8,1184.8 1177.6,1184.9 1179.8,1185.9 1181.1,1185.7 1185.8,1185.6 1193.3,1184.6 1196.1,1184.6 1198.1,1185.0 1200.3,1185.8 1201.6,1185.4 1203.6,1185.1 1206.3,1185.1 1210.3,1185.9 1213.8,1185.0 1218.6,1185.0 1220.3,1185.5 1222.1,1184.9 1230.8,1184.9 1234.8,1186.3 1235.8,1186.4 1242.6,1186.0 1247.1,1185.9 1250.3,1186.2 1252.8,1185.9 1257.6,1185.8 1265.6,1186.3 1268.1,1187.2 1271.1,1186.4 1273.1,1186.1 1277.8,1186.2 1281.8,1186.7 1285.1,1186.8 1289.3,1185.7 1294.1,1185.7 1296.3,1186.0 1298.3,1186.7 1304.3,1186.8 1306.3,1187.1 1309.3,1188.0 1311.8,1187.4 1316.3,1187.5 1318.1,1187.0 1320.1,1186.7 1322.8,1186.7 1325.6,1187.5 1328.8,1187.4 1330.6,1187.6 1334.3,1186.5 1336.3,1186.2 1339.1,1186.2 1341.1,1186.5 1343.6,1187.4 1346.6,1186.9 1349.3,1186.9 1351.6,1187.5 1352.8,1187.1 1354.6,1186.9 1357.6,1186.8 1359.6,1187.4 1365.6,1187.7 1367.6,1188.1 1371.1,1187.4 1374.1,1187.4 1376.8,1187.7 1382.1,1187.5 1384.6,1187.9 1390.3,1187.9 1393.6,1187.4 1396.3,1187.4 1399.1,1187.9 1401.8,1187.5 1406.6,1187.4 1408.6,1187.5 1410.8,1188.2 1412.1,1187.8 1413.8,1187.7 1422.8,1187.8 1426.3,1189.1 1428.3,1188.6 1432.3,1188.3 1434.3,1187.8 1437.3,1187.8 1439.3,1188.2 1441.1,1189.0 1446.8,1188.3 1451.3,1188.4 1453.8,1188.9 1456.8,1188.2 1459.6,1188.2 1463.1,1189.5 1467.1,1187.6 1470.1,1187.6 1472.1,1187.8 1474.8,1189.0 1480.1,1188.9 1482.8,1189.6 1485.3,1189.5 1489.1,1189.6 1491.6,1189.0 1493.8,1188.9 1495.8,1188.5 1500.6,1188.3 1510.8,1188.8 1513.3,1189.2 1516.3,1188.8 1523.1,1188.8 1525.1,1189.3 1526.8,1190.0 1532.6,1188.9 1541.3,1189.0 1545.3,1190.4 1547.6,1190.4 1550.8,1189.7 1553.8,1189.7 1564.3,1190.8 1565.3,1190.4 1567.3,1189.1 1569.3,1188.6 1572.1,1188.6 1576.3,1190.3 1578.1,1190.5 1580.3,1190.6 1581.6,1190.4 1583.6,1189.5 1585.6,1189.0 1588.6,1189.0 1590.8,1189.7 1593.8,1188.8 1596.6,1188.8 1600.6,1190.3 1604.1,1189.5 1606.1,1189.2 1608.8,1189.2 1612.6,1190.7 1618.3,1189.7 1627.1,1189.8 1628.1,1190.0 1630.6,1189.5 1633.3,1189.5 1635.3,1190.1 1636.8,1189.8 1639.6,1189.8 1643.6,1190.8 1646.8,1190.3 1649.8,1190.3 1651.8,1190.7 1654.1,1191.5 1659.3,1191.0 1663.3,1189.6 1666.1,1189.6 1670.8,1190.5 1673.6,1190.1 1677.8,1190.0 1681.8,1189.5 1686.3,1189.4 1689.6,1190.0 1693.8,1190.0 1698.1,1189.6 1700.8,1189.6 1703.8,1190.0 1706.1,1189.7 1709.1,1189.7 1711.1,1189.9 1712.8,1190.6 1714.3,1190.1 1717.1,1190.1 1719.8,1190.8 1722.6,1189.8 1725.3,1189.8 1730.1,1190.4 1732.8,1190.0 1735.6,1190.0 1739.6,1191.3 1743.6,1191.4 1745.6,1191.7 1747.1,1191.6 1751.1,1190.2 1753.8,1190.2 1757.8,1191.5 1759.3,1191.6 1759.3,1194.2 1755.3,1194.2 1752.6,1193.3 1749.8,1194.2 1747.8,1194.4 1743.1,1194.4 1741.1,1194.1 1736.8,1193.9 1733.8,1192.9 1731.6,1193.2 1728.6,1193.2 1724.8,1192.7 1721.3,1193.8 1718.6,1193.8 1716.1,1193.1 1715.1,1193.4 1710.3,1193.3 1708.1,1192.4 1702.1,1192.7 1698.8,1192.3 1696.6,1192.7 1687.8,1192.8 1684.3,1192.1 1680.3,1192.6 1676.3,1192.7 1672.3,1193.2 1667.6,1193.0 1665.3,1192.5 1661.8,1193.7 1657.8,1194.0 1655.8,1194.4 1653.1,1194.4 1651.1,1194.1 1648.1,1193.1 1645.6,1193.5 1642.8,1193.5 1640.8,1193.4 1638.3,1192.7 1634.6,1192.8 1632.8,1192.8 1631.8,1192.5 1629.3,1192.9 1626.6,1192.9 1624.6,1192.4 1619.8,1192.5 1616.8,1193.2 1613.1,1193.5 1610.3,1193.5 1606.6,1192.1 1602.8,1193.0 1598.1,1193.0 1595.1,1191.9 1592.6,1192.7 1589.6,1192.7 1586.8,1192.0 1584.3,1193.0 1582.3,1193.3 1575.6,1193.1 1573.3,1192.8 1570.3,1191.6 1568.1,1193.0 1566.1,1193.7 1563.1,1193.8 1561.1,1193.2 1552.8,1192.5 1549.6,1193.1 1542.8,1193.0 1538.6,1191.6 1534.8,1191.6 1529.3,1192.6 1524.6,1192.7 1520.6,1191.4 1518.8,1191.4 1514.8,1192.1 1512.1,1192.1 1508.1,1191.5 1499.1,1191.0 1496.6,1191.5 1494.3,1191.6 1490.3,1192.5 1487.6,1192.5 1486.1,1192.2 1484.3,1192.4 1481.3,1192.4 1479.3,1192.1 1477.8,1191.7 1476.1,1192.1 1473.3,1192.1 1469.3,1190.5 1465.8,1192.2 1463.8,1192.4 1461.1,1192.4 1457.8,1191.1 1455.6,1191.8 1452.8,1191.8 1448.6,1191.0 1443.3,1191.7 1438.6,1191.7 1436.1,1190.7 1435.1,1190.9 1431.1,1191.2 1428.8,1191.8 1424.3,1191.9 1420.3,1190.4 1418.8,1190.6 1416.1,1190.6 1414.8,1190.4 1412.8,1191.1 1409.8,1191.1 1407.8,1190.7 1405.8,1190.1 1400.3,1190.7 1397.6,1190.7 1394.6,1190.3 1392.3,1190.7 1387.6,1190.5 1383.3,1190.7 1380.1,1190.2 1378.1,1190.4 1375.3,1190.4 1373.3,1190.1 1369.8,1190.9 1367.1,1190.9 1365.1,1190.8 1362.8,1190.3 1356.8,1190.0 1355.6,1189.7 1353.6,1190.6 1350.6,1190.6 1347.3,1189.8 1345.3,1190.2 1342.3,1190.1 1340.6,1189.9 1337.8,1189.0 1332.8,1190.3 1324.1,1190.3 1320.8,1189.6 1318.6,1190.2 1314.1,1190.1 1310.6,1190.9 1307.8,1190.9 1303.6,1189.7 1301.8,1189.5 1297.6,1189.6 1295.6,1189.3 1293.6,1188.6 1292.1,1188.4 1287.8,1189.4 1283.1,1189.5 1279.1,1189.3 1275.1,1188.8 1273.6,1189.0 1269.8,1190.1 1266.8,1190.1 1264.8,1189.7 1262.8,1188.9 1256.6,1188.5 1251.3,1188.8 1244.8,1188.6 1237.1,1189.1 1234.1,1189.1 1232.1,1188.9 1228.3,1187.6 1224.8,1187.5 1222.6,1188.3 1217.8,1188.2 1216.1,1187.7 1212.3,1188.7 1207.6,1188.5 1204.6,1188.0 1202.3,1188.7 1199.3,1188.7 1197.3,1188.4 1194.6,1187.4 1188.1,1188.3 1183.8,1188.3 1181.8,1188.7 1179.1,1188.7 1177.1,1188.5 1174.8,1187.5 1173.6,1187.8 1170.8,1187.8 1168.8,1187.4 1166.8,1186.5 1164.3,1186.1 1161.3,1187.0 1156.6,1187.0 1154.6,1186.7 1149.8,1185.2 1147.1,1185.6 1144.3,1185.6 1142.3,1185.3 1140.3,1184.4 1138.3,1184.0 1132.1,1183.2 1127.8,1182.8 1125.8,1182.3 1123.8,1181.4 1119.8,1181.3 1117.8,1180.8 1113.6,1178.5 1111.8,1177.9 1109.6,1177.8 1107.6,1177.4 1103.6,1174.9 1101.6,1174.1 1097.3,1173.5 1095.3,1172.7 1093.3,1171.2 1091.3,1170.1 1087.1,1169.5 1085.1,1168.5 1082.8,1166.7 1081.1,1165.9 1078.8,1165.2 1076.8,1163.8 1074.8,1161.9 1072.8,1160.6 1070.6,1159.7 1068.8,1158.5 1066.6,1156.4 1064.6,1154.9 1060.3,1152.5 1058.6,1150.9 1054.3,1146.3 1050.3,1143.2 1038.1,1130.0 1029.8,1120.0 1027.8,1117.2 1017.6,1100.3 1013.6,1094.2 1009.3,1086.1 1005.3,1080.2 1003.1,1075.7 995.3,1061.7 990.8,1052.7 985.1,1042.7 982.8,1037.8 976.8,1026.8 972.6,1018.0 968.6,1010.5 960.3,996.2 954.3,984.1 948.1,975.5 942.1,965.6 935.8,958.0 931.8,952.5 927.8,949.5 923.6,945.3 919.6,941.9 917.3,940.7 911.3,938.4 907.3,936.2 905.3,935.3 901.1,934.1 897.6,933.5 893.1,933.6 891.6,934.1 889.6,935.3 885.6,935.5 881.6,937.2 879.3,937.4 877.3,938.5 875.1,940.3 871.3,942.3 867.1,944.2 863.1,947.7 859.1,952.1 854.8,955.3 846.6,963.0 842.6,967.4 838.6,973.0 834.6,977.7 832.3,981.3 828.3,986.1 826.3,988.9 822.1,992.8 816.1,1002.5 814.1,1005.0 807.8,1012.0 797.6,1024.5 791.3,1031.3 783.3,1040.9 779.3,1044.6 773.3,1051.0 769.1,1054.0 765.1,1058.4 762.8,1060.2 758.8,1063.9 754.8,1065.5 750.6,1069.8 748.6,1071.2 746.6,1074.8 744.6,1081.1 742.6,1084.0 740.6,1085.0 738.3,1085.4 736.3,1086.5 734.3,1088.1 730.3,1090.5 724.1,1095.7 718.1,1099.9 715.8,1101.0 714.1,1102.2 711.8,1104.2 709.8,1105.2 707.8,1105.9 703.6,1109.8 701.6,1110.8 699.6,1112.2 697.6,1113.2 695.6,1113.8 693.6,1114.9 687.1,1120.1 685.3,1121.2 681.1,1122.3 675.1,1124.8 671.1,1126.2 664.8,1129.9 660.8,1132.1 658.8,1132.4 656.6,1132.6 654.6,1133.3 648.6,1136.5 646.6,1137.0 644.3,1137.1 638.3,1138.5 634.3,1138.7 632.1,1139.7 630.1,1140.2 627.3,1140.2 624.8,1139.5 622.1,1140.3 619.1,1140.3 617.8,1140.0 615.8,1141.5 613.8,1142.2 610.8,1142.2 606.3,1141.7 603.3,1142.4 598.8,1142.4 594.1,1141.7 591.3,1142.2 588.6,1142.2 584.6,1141.4 579.8,1141.3 575.1,1141.6 572.8,1142.1 570.1,1142.1 568.1,1141.9 566.1,1141.1 564.1,1141.1 562.1,1140.7 559.3,1139.6 556.6,1140.6 553.8,1140.6 551.8,1140.1 549.8,1138.9 548.8,1138.6 545.6,1138.6 543.6,1138.2 541.6,1137.1 540.3,1136.7 535.3,1136.9 533.3,1136.8 530.3,1136.3 525.3,1136.2 521.1,1134.8 517.1,1134.7 513.1,1133.6 510.8,1133.2 506.8,1133.2 504.8,1133.0 500.6,1131.9 494.3,1129.6 488.8,1128.8 487.1,1129.0 484.3,1129.0 482.3,1128.4 480.3,1127.5 478.3,1126.8 470.1,1124.4 463.8,1122.9 459.8,1122.2 457.8,1121.1 456.6,1120.6 453.6,1120.6 451.8,1120.1 449.6,1118.4 447.6,1117.1 445.6,1117.0 443.6,1116.6 441.3,1115.4 437.3,1114.4 431.1,1112.4 429.1,1111.6 425.1,1108.9 421.1,1108.4 416.8,1105.9 410.8,1103.3 408.8,1101.9 406.8,1101.0 404.6,1100.7 402.6,1099.8 394.3,1094.1 392.3,1093.0 390.3,1092.3 386.3,1089.6 382.1,1085.9 380.1,1084.6 378.1,1083.0 372.1,1076.9 365.8,1069.9 359.8,1062.4 357.6,1060.2 355.6,1057.2 353.6,1053.4 347.3,1043.0 343.3,1034.8 341.3,1031.2 337.1,1020.7 333.3,1012.2 326.8,993.3 320.8,972.8 314.8,946.9 312.6,935.6 308.6,913.6 306.6,901.3 302.3,873.7 300.3,859.5 298.6,845.2 294.3,805.4 292.3,782.8 290.1,754.2 288.1,724.0 286.3,691.8 284.1,641.3Z"/>
<path fill="#008080" stroke="#008080" d="M284.1,552.4 286.9,552.4 291.1,632.8 293.1,666.5 295.1,695.9 297.1,721.5 299.1,744.0 303.1,783.3 305.4,802.6 307.4,818.3 311.4,845.6 315.4,870.6 317.6,882.8 321.6,902.8 325.6,920.8 327.9,929.4 333.9,950.1 337.9,962.5 344.1,980.3 350.1,994.2 354.4,1003.0 358.4,1012.0 360.4,1015.3 366.6,1024.6 370.6,1029.4 374.9,1035.2 376.9,1037.7 378.9,1039.7 387.1,1047.0 391.1,1050.9 395.1,1054.0 399.4,1058.0 403.4,1060.4 409.4,1066.5 411.4,1068.0 413.6,1068.7 415.6,1069.6 417.6,1071.6 419.6,1072.9 421.6,1073.6 423.9,1075.6 425.9,1077.0 427.9,1077.8 430.1,1079.3 431.9,1080.3 434.1,1081.2 437.9,1083.2 444.4,1087.7 446.4,1088.6 456.4,1091.9 460.6,1094.0 464.6,1095.2 466.9,1095.6 468.6,1096.4 470.9,1098.0 472.9,1098.7 474.9,1099.0 478.9,1100.9 480.4,1101.3 485.1,1101.4 489.1,1102.2 491.1,1102.8 494.9,1104.3 496.6,1104.0 499.4,1104.0 503.4,1104.4 505.4,1104.4 507.6,1105.4 509.6,1106.9 511.6,1107.3 513.6,1107.5 517.9,1107.4 519.9,1107.9 523.9,1109.6 527.9,1110.2 530.1,1111.0 534.1,1110.8 540.1,1111.5 544.4,1113.6 546.4,1114.0 548.4,1114.1 551.9,1114.8 556.6,1114.9 559.6,1116.8 561.9,1116.4 564.9,1116.4 566.9,1117.1 568.9,1118.3 570.9,1119.1 572.9,1119.4 581.1,1119.5 583.4,1120.2 586.6,1119.9 590.6,1118.9 595.4,1119.0 599.4,1119.4 602.1,1120.4 604.9,1119.7 608.9,1119.8 613.4,1119.7 617.1,1118.8 621.4,1118.8 625.4,1117.9 627.4,1117.8 633.4,1116.7 637.6,1115.3 639.6,1115.0 644.4,1115.1 647.9,1113.3 651.9,1113.1 660.1,1109.9 664.1,1107.4 668.1,1105.3 670.1,1105.1 672.9,1105.0 674.4,1104.4 678.6,1101.6 682.6,1099.6 684.6,1098.3 686.6,1097.5 689.6,1097.5 690.6,1097.3 694.9,1094.3 698.9,1091.8 700.9,1090.7 703.1,1089.9 707.1,1087.0 711.1,1085.8 715.4,1082.3 717.4,1081.0 721.4,1079.1 723.4,1077.3 725.4,1074.4 727.6,1066.2 729.4,1064.7 732.4,1064.5 734.4,1066.0 735.4,1067.2 735.6,1067.3 739.9,1062.7 743.9,1060.5 746.1,1058.7 751.9,1053.3 758.1,1046.7 766.4,1039.8 770.4,1034.3 772.4,1033.0 774.6,1031.1 778.6,1026.2 780.6,1024.5 782.6,1022.2 784.6,1019.4 786.9,1016.8 790.9,1011.6 792.9,1010.0 794.9,1007.8 796.9,1004.4 798.9,1001.8 801.1,999.6 803.1,997.3 809.1,989.3 811.4,986.9 813.1,984.7 815.6,980.6 817.4,978.3 821.6,973.5 825.6,967.3 827.6,964.6 831.9,959.9 835.9,953.8 837.9,951.1 839.9,949.1 841.9,946.7 843.9,943.7 845.9,941.5 850.1,937.8 854.1,933.0 858.4,927.0 860.4,924.9 864.4,922.0 866.4,920.2 870.4,917.2 872.6,914.5 874.6,913.4 876.6,913.3 878.6,911.7 880.9,909.3 882.9,908.2 886.9,907.3 891.1,904.7 893.1,904.2 895.1,904.0 899.1,902.9 901.9,902.9 904.4,903.5 905.1,903.4 908.1,903.4 912.1,905.1 916.1,905.3 918.4,905.8 924.4,908.4 928.6,910.8 938.6,919.9 942.6,924.8 944.9,926.9 948.9,932.5 952.9,939.2 955.1,942.2 957.1,945.4 959.1,949.8 961.1,953.6 963.4,957.2 971.4,972.5 973.4,976.5 981.6,995.2 985.6,1002.7 987.9,1007.8 1002.1,1035.9 1004.1,1040.1 1006.1,1045.0 1014.1,1060.4 1016.4,1065.3 1018.4,1069.1 1020.4,1072.2 1024.4,1079.9 1026.6,1083.7 1032.6,1091.9 1034.6,1095.3 1038.9,1103.2 1042.9,1109.1 1044.9,1111.7 1046.9,1113.5 1049.1,1116.1 1053.1,1121.8 1055.1,1124.1 1059.4,1130.6 1061.4,1133.2 1063.4,1135.1 1065.4,1136.4 1067.4,1138.1 1069.4,1140.3 1073.6,1144.3 1079.6,1150.7 1081.9,1152.5 1085.9,1154.7 1087.9,1156.0 1091.9,1157.7 1093.9,1158.7 1098.1,1162.3 1100.1,1163.6 1104.4,1165.4 1108.4,1167.7 1112.4,1168.8 1120.4,1172.3 1122.6,1172.5 1124.6,1172.9 1126.6,1173.7 1130.6,1176.0 1131.9,1176.4 1134.1,1176.1 1136.9,1176.1 1141.1,1178.2 1147.1,1179.1 1149.1,1179.7 1151.1,1180.1 1155.4,1180.6 1159.4,1182.0 1161.4,1182.4 1165.4,1182.6 1169.6,1183.5 1173.6,1183.7 1177.6,1184.3 1181.9,1185.7 1186.9,1186.4 1190.1,1186.4 1192.1,1186.8 1196.1,1186.6 1199.4,1187.3 1202.4,1187.3 1204.1,1187.7 1211.6,1186.9 1214.6,1186.9 1218.6,1187.9 1222.9,1187.9 1226.9,1188.4 1231.1,1188.6 1234.9,1188.5 1238.1,1189.2 1240.4,1188.9 1243.1,1188.9 1245.1,1189.4 1249.1,1189.9 1252.6,1188.9 1257.4,1188.8 1259.6,1189.1 1263.6,1189.1 1270.9,1189.6 1273.1,1189.2 1277.9,1189.3 1281.9,1189.8 1283.4,1189.5 1286.1,1189.5 1288.1,1189.8 1290.1,1190.6 1291.4,1190.4 1295.9,1190.5 1299.6,1190.2 1302.4,1190.2 1304.6,1190.5 1307.9,1190.3 1309.9,1189.9 1312.6,1189.9 1314.6,1190.0 1316.6,1190.5 1320.9,1190.4 1322.9,1190.9 1326.4,1191.3 1328.4,1190.8 1332.9,1190.8 1334.6,1191.0 1336.4,1190.9 1338.6,1190.4 1343.1,1190.4 1347.6,1191.5 1353.4,1191.3 1357.6,1191.8 1360.9,1191.2 1363.6,1191.2 1365.6,1191.4 1367.6,1192.0 1368.9,1192.1 1373.1,1191.7 1375.9,1191.7 1380.4,1192.7 1383.4,1192.0 1386.1,1192.0 1388.4,1192.5 1389.6,1192.0 1391.4,1191.8 1394.4,1191.8 1397.1,1192.9 1402.4,1192.7 1404.1,1193.2 1406.6,1193.2 1409.4,1193.5 1414.1,1193.6 1416.1,1193.1 1418.9,1193.1 1422.4,1194.0 1424.4,1193.6 1430.4,1193.0 1433.1,1193.0 1435.1,1193.2 1437.9,1193.9 1438.6,1193.7 1440.6,1192.9 1443.4,1192.9 1445.4,1193.0 1447.6,1194.2 1450.9,1193.1 1453.6,1193.1 1460.4,1194.9 1465.9,1194.9 1467.1,1194.6 1469.1,1194.5 1484.1,1194.5 1487.4,1195.6 1489.6,1195.0 1497.6,1194.7 1500.6,1194.7 1502.1,1195.0 1503.9,1194.8 1506.6,1194.8 1510.1,1195.7 1512.4,1195.2 1516.4,1195.0 1518.1,1194.7 1521.1,1194.7 1523.6,1195.4 1526.4,1194.4 1529.1,1194.4 1533.4,1195.6 1535.4,1195.9 1538.6,1195.5 1541.4,1195.5 1545.6,1195.9 1549.4,1196.6 1554.1,1196.5 1554.1,1199.1 1546.9,1199.2 1542.9,1198.5 1539.9,1198.3 1537.4,1198.7 1534.6,1198.7 1530.6,1198.2 1527.9,1197.4 1525.1,1198.5 1522.4,1198.5 1519.4,1197.6 1514.9,1197.9 1512.9,1198.3 1508.1,1198.4 1504.9,1197.6 1499.9,1197.7 1498.1,1197.3 1492.4,1197.6 1488.4,1198.5 1485.6,1198.5 1481.6,1197.1 1480.1,1197.3 1470.1,1197.2 1467.9,1197.7 1463.1,1197.5 1458.9,1197.6 1456.9,1197.3 1452.6,1196.0 1449.4,1197.2 1446.6,1197.2 1444.9,1196.8 1442.9,1195.8 1441.4,1196.3 1439.4,1196.7 1436.4,1196.7 1431.9,1195.7 1427.1,1196.2 1424.9,1196.6 1420.4,1196.8 1417.6,1196.0 1416.6,1196.2 1407.9,1196.3 1404.9,1195.9 1401.9,1195.9 1400.1,1195.5 1398.4,1195.9 1395.6,1195.9 1392.4,1194.7 1390.1,1195.4 1387.4,1195.4 1384.9,1195.0 1382.1,1195.5 1379.4,1195.5 1377.4,1195.3 1374.1,1194.5 1371.9,1194.7 1367.1,1194.8 1365.1,1194.6 1362.6,1194.0 1359.6,1194.5 1356.6,1194.5 1351.4,1194.0 1349.4,1194.3 1346.6,1194.3 1344.6,1194.0 1340.9,1193.1 1339.1,1193.5 1335.1,1193.7 1332.4,1193.7 1330.9,1193.5 1328.9,1194.0 1322.1,1193.8 1318.6,1193.1 1313.9,1193.1 1312.1,1192.6 1310.6,1192.9 1306.4,1193.2 1301.9,1193.1 1300.1,1192.9 1298.1,1193.2 1287.6,1193.3 1284.9,1192.4 1283.9,1192.6 1279.4,1192.5 1275.4,1191.9 1273.6,1192.2 1268.9,1192.3 1260.9,1191.7 1256.9,1191.7 1255.4,1191.5 1251.4,1192.6 1248.4,1192.7 1246.4,1192.5 1241.4,1191.7 1239.1,1192.1 1236.4,1192.1 1233.1,1191.2 1224.1,1191.0 1221.1,1190.6 1215.9,1190.5 1212.9,1189.7 1206.4,1190.4 1201.6,1190.4 1199.9,1190.0 1197.4,1190.0 1194.4,1189.5 1189.4,1189.4 1187.6,1189.0 1183.4,1188.9 1179.1,1188.3 1174.9,1186.9 1170.9,1186.3 1166.9,1186.1 1162.6,1185.2 1158.6,1185.0 1156.6,1184.6 1152.6,1183.2 1148.4,1182.7 1146.4,1182.3 1144.4,1181.7 1140.1,1181.1 1138.1,1180.7 1134.9,1179.0 1132.9,1179.3 1129.9,1179.3 1127.9,1178.6 1123.9,1176.3 1121.9,1175.5 1119.9,1175.1 1117.6,1174.9 1109.6,1171.4 1105.6,1170.3 1101.6,1168.0 1097.4,1166.2 1095.4,1164.9 1091.1,1161.3 1089.1,1160.3 1085.1,1158.6 1083.1,1157.3 1079.1,1155.1 1076.9,1153.3 1070.9,1146.9 1066.6,1142.9 1064.6,1140.7 1062.6,1139.0 1060.6,1137.7 1058.6,1135.8 1056.6,1133.2 1052.4,1126.7 1050.4,1124.4 1046.4,1118.7 1044.1,1116.1 1042.1,1114.3 1040.1,1111.7 1036.1,1105.8 1031.9,1097.9 1029.9,1094.5 1023.9,1086.3 1021.6,1082.5 1017.6,1074.8 1015.6,1071.7 1013.6,1067.9 1011.4,1063.0 1003.4,1047.6 1001.4,1042.7 999.4,1038.5 985.1,1010.4 982.9,1005.3 978.9,997.8 970.6,979.1 968.6,975.1 960.6,959.8 958.4,956.2 956.4,952.4 954.4,948.0 952.4,944.8 950.1,941.8 946.1,935.1 942.1,929.5 939.9,927.4 935.9,922.5 925.9,913.4 921.6,911.0 915.6,908.4 913.4,907.9 909.4,907.7 907.4,906.7 906.1,906.3 903.1,906.3 900.4,905.9 897.9,906.6 895.6,906.8 893.6,907.4 889.6,909.9 885.4,910.9 883.6,911.9 881.4,914.3 879.4,915.9 877.4,916.0 875.4,917.1 873.1,919.8 869.1,922.8 867.1,924.6 863.1,927.5 861.1,929.6 856.9,935.6 852.9,940.4 848.6,944.1 846.6,946.3 844.6,949.3 842.6,951.7 840.6,953.7 838.6,956.4 834.6,962.5 830.4,967.2 828.4,969.9 824.4,976.1 820.1,980.9 818.4,983.2 815.9,987.3 814.1,989.5 811.9,991.9 805.9,999.9 803.9,1002.2 801.6,1004.4 799.6,1007.0 797.6,1010.4 795.6,1012.6 793.6,1014.2 789.6,1019.4 787.4,1022.0 785.4,1024.8 783.4,1027.1 781.4,1028.8 777.1,1034.0 775.1,1035.6 773.1,1036.9 769.1,1042.4 760.9,1049.3 754.6,1055.9 748.6,1061.5 746.6,1063.1 742.6,1065.3 738.4,1069.9 736.6,1070.9 733.6,1070.9 731.6,1068.6 731.1,1068.3 730.9,1068.4 730.4,1068.8 730.1,1069.5 728.1,1077.0 726.1,1079.9 724.1,1081.7 720.1,1083.6 718.1,1084.9 713.9,1088.4 709.9,1089.6 705.9,1092.5 703.6,1093.3 699.6,1095.6 693.4,1099.9 691.4,1100.4 688.6,1100.4 687.4,1100.9 685.4,1102.2 681.1,1104.4 677.1,1107.0 675.1,1107.9 671.1,1107.8 666.9,1110.0 662.6,1112.6 654.6,1115.7 650.6,1115.9 646.6,1117.9 643.6,1118.0 641.6,1117.8 640.4,1117.9 636.1,1119.3 630.1,1120.4 628.1,1120.5 624.1,1121.4 619.9,1121.4 615.9,1122.3 606.6,1122.5 603.6,1123.4 600.9,1123.4 598.9,1122.9 596.6,1122.0 593.1,1121.6 589.4,1122.5 587.1,1122.6 585.1,1122.9 580.6,1122.8 578.4,1122.1 570.1,1122.0 568.1,1121.7 563.1,1119.3 560.6,1119.9 557.9,1119.9 553.9,1117.5 549.6,1117.5 545.6,1116.7 543.6,1116.6 541.6,1116.2 537.4,1114.1 533.1,1113.6 532.1,1113.8 529.4,1113.8 527.4,1113.6 525.1,1112.8 521.1,1112.2 517.1,1110.5 515.9,1110.2 510.9,1110.1 508.9,1109.9 506.9,1109.5 504.9,1108.0 502.9,1107.1 498.9,1106.8 497.4,1107.1 492.6,1107.1 486.4,1104.8 482.4,1104.0 478.1,1104.1 476.1,1103.5 472.1,1101.6 470.1,1101.3 468.1,1100.6 465.9,1099.0 464.1,1098.2 461.9,1097.8 457.9,1096.6 453.6,1094.5 443.6,1091.2 441.6,1090.3 435.1,1085.8 431.4,1083.8 429.1,1082.9 427.4,1081.9 425.1,1080.4 423.1,1079.6 421.1,1078.2 418.9,1076.2 416.9,1075.5 414.9,1074.2 412.9,1072.2 410.9,1071.3 408.6,1070.6 406.6,1069.1 400.6,1063.0 396.6,1060.6 392.4,1056.6 388.4,1053.5 384.4,1049.6 376.1,1042.3 374.1,1040.3 372.1,1037.8 367.9,1032.0 363.9,1027.2 357.6,1017.9 355.6,1014.6 351.6,1005.6 347.4,996.8 341.4,982.9 335.1,965.1 329.1,946.0 324.9,931.1 320.9,914.8 316.9,895.4 312.9,874.6 306.4,833.4 304.4,819.0 300.6,788.1 296.4,746.6 294.4,724.1 292.4,698.5 290.4,669.1 288.4,635.4 284.1,555.0Z"/>
</g>
<g shape-rendering="crispEdges">
<rect x="1507" y="36" width="120" height="7" fill="#000000"/>
<rect x="1507" y="102" width="120" height="6" fill="#ff0000"/>
<rect x="1507" y="167" width="120" height="6" fill="#0000ff"/>
<rect x="1507" y="232" width="120" height="7" fill="#008080"/>
</g>
<g class="tk">
<text transform="translate(1643,57.7) scale(1,1.035)">1</text>
<text transform="translate(1641,123.7) scale(1,1.035)">2</text>
<text transform="translate(1641,188.7) scale(1,1.035)">3</text>
<text transform="translate(1641,253.7) scale(1,1.035)">4</text>
</g>
<g fill="#fff" shape-rendering="crispEdges">
<rect x="194.5" y="878.4" width="10.5" height="7.6"/><rect x="211.0" y="878.4" width="9.3" height="7.6"/>
<rect x="194.5" y="711.4" width="10.5" height="7.6"/><rect x="211.0" y="711.4" width="9.3" height="7.6"/>
<rect x="1645.5" y="51.3" width="10.5" height="7.6"/><rect x="1661.0" y="51.3" width="10.0" height="7.6"/>
</g>
</svg>
</body>
</html>
